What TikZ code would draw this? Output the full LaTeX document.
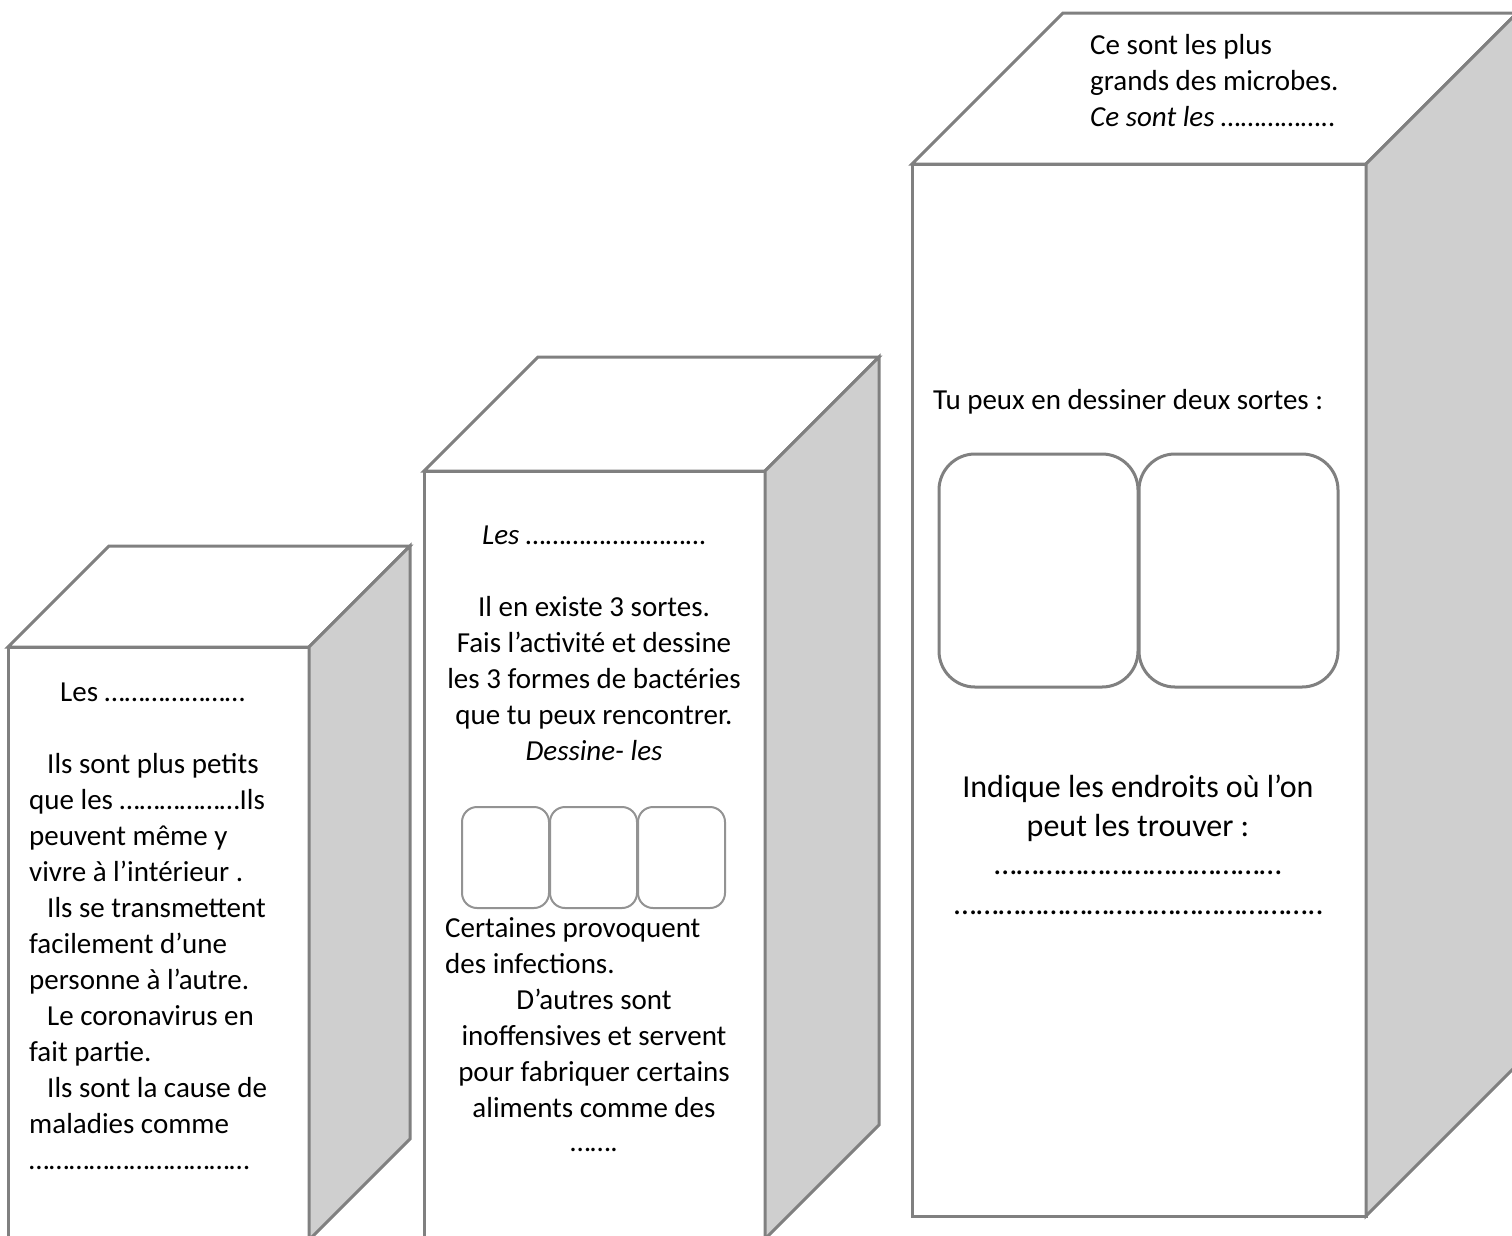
\documentclass[tikz,border=0pt]{standalone}
\usepackage{fontspec}
\setmainfont{Carlito}
\definecolor{edge}{HTML}{808080}
\definecolor{side}{HTML}{CFCFCF}
\begin{document}
\begin{tikzpicture}[x=1pt,y=-1pt,
  face/.style={draw=edge,line width=3pt,fill=white,line join=miter},
  sideface/.style={draw=edge,line width=3pt,fill=side,line join=miter},
  cell/.style={draw=edge!85,line width=2pt,rounded corners=15pt,fill=white},
  bigcell/.style={draw=edge,line width=3pt,rounded corners=36pt,fill=white},
  txt/.style={inner sep=0pt,font=\fontsize{29}{36}\selectfont},
  bigtxt/.style={inner sep=0pt,font=\fontsize{32}{39}\selectfont}]
\useasboundingbox (0,0) rectangle (1512,1235);
\clip (0,0) rectangle (1512,1235);
% box 1
\draw[face] (8,647) rectangle (309,1240);
\draw[face] (8,647) -- (109,546) -- (410,546) -- (309,647) -- cycle;
\draw[sideface] (309,647) -- (410,546) -- (410,1139) -- (309,1240) -- cycle;
% box 2
\draw[face] (424,471) rectangle (765,1239);
\draw[face] (424,471) -- (538,357) -- (879,357) -- (765,471) -- cycle;
\draw[sideface] (765,471) -- (879,357) -- (879,1125) -- (765,1239) -- cycle;
% box 3
\draw[face] (912,164) rectangle (1366,1216);
\draw[face] (912,164) -- (1063,13) -- (1517,13) -- (1366,164) -- cycle;
\draw[sideface] (1366,164) -- (1517,13) -- (1517,1065) -- (1366,1216) -- cycle;
% drawing cells
\draw[cell] (462,807) rectangle (549,908);
\draw[cell] (550,807) rectangle (637,908);
\draw[cell] (638,807) rectangle (725,908);
\draw[bigcell] (939,454) rectangle (1138,687);
\draw[bigcell] (1139,454) rectangle (1338,687);
% box 1 text
\node[txt,anchor=base west] (a0) at (60,701) {Les …………………};
\node[txt,anchor=base west] (a1) at (47,773) {Ils sont plus petits};
\node[txt,anchor=base west] (a2) at (29,809) {que les ………………Ils};
\node[txt,anchor=base west] (a3) at (29,845) {peuvent même y};
\node[txt,anchor=base west] (a4) at (29,881) {vivre à l’intérieur .};
\node[txt,anchor=base west] (a5) at (47,917) {Ils se transmettent};
\node[txt,anchor=base west] (a6) at (29,953) {facilement d’une};
\node[txt,anchor=base west] (a7) at (29,989) {personne à l’autre.};
\node[txt,anchor=base west] (a8) at (47,1025) {Le coronavirus en};
\node[txt,anchor=base west] (a9) at (29,1061) {fait partie.};
\node[txt,anchor=base west] (a10) at (47,1097) {Ils sont la cause de};
\node[txt,anchor=base west] (a11) at (29,1133) {maladies comme};
\node[txt,anchor=base west] (a12) at (29,1169) {……………………………};
% box 2 text
\node[txt,anchor=base west,font=\fontsize{29}{36}\selectfont\itshape] (b0) at (482,544) {Les ………………………};
\node[txt,anchor=base] (b1) at (594,616) {Il en existe 3 sortes.};
\node[txt,anchor=base] (b2) at (594,652) {Fais l’activité et dessine};
\node[txt,anchor=base] (b3) at (594,688) {les 3 formes de bactéries};
\node[txt,anchor=base] (b4) at (594,724) {que tu peux rencontrer.};
\node[txt,anchor=base,font=\fontsize{29}{36}\selectfont\itshape] (b5) at (594,760) {Dessine- les};
\node[txt,anchor=base west] (b6) at (445,937) {Certaines provoquent};
\node[txt,anchor=base west] (b7) at (445,973) {des infections.};
\node[txt,anchor=base] (b8) at (594,1009) {D’autres sont};
\node[txt,anchor=base] (b9) at (594,1045) {inoffensives et servent};
\node[txt,anchor=base] (b10) at (594,1081) {pour fabriquer certains};
\node[txt,anchor=base] (b11) at (594,1117) {aliments comme des};
\node[txt,anchor=base] (b12) at (594,1151) {…….};
% box 3 text
\node[txt,anchor=base west] (c0) at (1090,54) {Ce sont les plus};
\node[txt,anchor=base west] (c1) at (1090,90) {grands des microbes.};
\node[txt,anchor=base west,font=\fontsize{29}{36}\selectfont\itshape] (c2) at (1090,126) {Ce sont les ……………..};
\node[txt,anchor=base west] (c3) at (933,409) {Tu peux en dessiner deux sortes :};
\node[bigtxt,anchor=base] (c4) at (1138,797) {Indique les endroits où l’on};
\node[bigtxt,anchor=base] (c5) at (1138,836) {peut les trouver :};
\node[bigtxt,anchor=base] (c6) at (1138,874) {…………………………………};
\node[bigtxt,anchor=base] (c7) at (1139,914) {…………………………………………..};
\end{tikzpicture}
\end{document}
